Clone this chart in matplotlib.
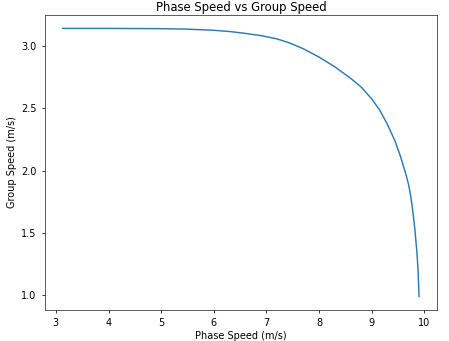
import matplotlib
matplotlib.use("Agg")
import matplotlib.pyplot as plt

# values
phase_speed = [3.13, 4.0, 5.0, 5.5, 6.0, 6.3, 6.6, 6.9, 7.2, 7.45, 7.7, 8.0, 8.3,
               8.6, 8.8, 9.0, 9.15, 9.3, 9.45, 9.55, 9.65, 9.70, 9.74, 9.78, 9.82,
               9.86, 9.88, 9.9]
group_speed = [3.14, 3.14, 3.138, 3.134, 3.125, 3.115, 3.10, 3.082, 3.056, 3.022, 2.977,
               2.91, 2.832, 2.74, 2.67, 2.575, 2.487, 2.37, 2.23, 2.11, 1.97, 1.89,
               1.80, 1.68, 1.53, 1.34, 1.21, 0.99]

s = 0.7
plt.rcParams.update({
    'font.size': 10 * s,
    'axes.titlesize': 12 * s,
    'axes.linewidth': 0.8 * s,
    'axes.edgecolor': '#333333',
    'xtick.major.size': 3.5 * s,
    'ytick.major.size': 3.5 * s,
    'xtick.major.width': 0.8 * s,
    'ytick.major.width': 0.8 * s,
})

fig = plt.figure(figsize=(4.49, 3.41), dpi=100)
ax = fig.add_axes([0.10, 0.091, 0.873, 0.865])
ax.plot(phase_speed, group_speed, color='#2b7bb0', linewidth=1.5 * s)
ax.set_title('Phase Speed vs Group Speed', pad=3)
ax.set_xlabel('Phase Speed (m/s)', labelpad=2)
ax.set_ylabel('Group Speed (m/s)', labelpad=3)
ax.set_yticks([1.0, 1.5, 2.0, 2.5, 3.0])

fig.savefig('out.png', dpi=100)
